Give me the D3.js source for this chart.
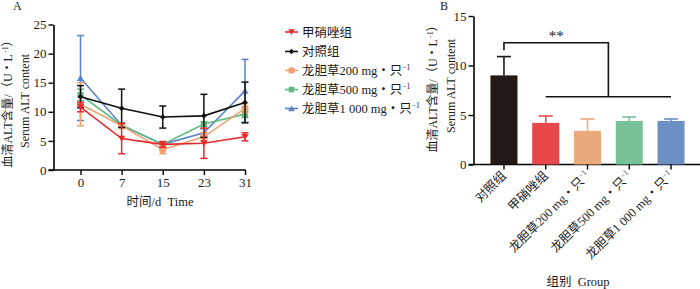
<!DOCTYPE html>
<html>
<head>
<meta charset="utf-8">
<script src="https://cdn.jsdelivr.net/npm/d3@7/dist/d3.min.js"></script>
<style>
  body { margin: 0; background: #fff; }
  text { font-family: "Liberation Serif", "Noto Sans CJK SC", serif; fill: #1a1a1a; }
</style>
</head>
<body>
<div id="chart"></div>
<script>
// ---- data ----
const days = ["0", "7", "15", "23", "31"];
const seriesNames = ["甲硝唑组", "对照组", "龙胆草200 mg・只", "龙胆草500 mg・只", "龙胆草1 000 mg・只"];
const metroMean = [10.8, 5.4, 4.4, 4.6, 5.7];
const metroErr = [0.8, 2.6, 0.5, 2.6, 0.7];
const ctrlMean = [12.6, 10.6, 9.1, 9.3, 11.6];
const ctrlErr = [1.9, 3.3, 1.9, 3.7, 3.5];
const g200Mean = [11.3, 7.6, 3.5, 5.7, 10.6];
const g200Err = [3.7, 0.3, 0.7, 0.7, 0.8];
const g500Mean = [12.9, 7.7, 4.4, 7.9, 9.6];
const g500Err = [1.0, 0.3, 0.4, 0.4, 0.6];
const g1000Mean = [15.8, 7.7, 4.4, 6.4, 13.6];
const g1000Err = [7.3, 0.3, 0.4, 0.7, 5.4];
const yTicksA = [0, 5, 10, 15, 20, 25];

const groupsB = ["对照组", "甲硝唑组", "龙胆草200 mg・只", "龙胆草500 mg・只", "龙胆草1 000 mg・只"];
const meanB = [9.0, 4.2, 3.4, 4.4, 4.4];
const errB = [1.9, 0.7, 1.2, 0.4, 0.2];
const yTicksB = [0, 5, 10, 15];

const lineColors = ["#e62a2a", "#111111", "#eea273", "#5db982", "#5b84c6"];
const barColors = ["#221815", "#e8474b", "#e9a97a", "#79c196", "#6e8fc4"];
const symbols = ["tri-down", "diamond", "circle", "square", "tri-up"];

const svg = d3.select("#chart").append("svg")
    .attr("width", 700)
    .attr("height", 289);

function markerPath(type, s) {
    if (type === "tri-down") return `M${-s},${-s * 0.8}L${s},${-s * 0.8}L0,${s * 0.9}Z`;
    if (type === "tri-up") return `M${-s},${s * 0.8}L${s},${s * 0.8}L0,${-s * 0.9}Z`;
    if (type === "diamond") return `M0,${-s * 0.8}L${s * 0.8},0L0,${s * 0.8}L${-s * 0.8},0Z`;
    if (type === "square") return `M${-s * 0.85},${-s * 0.85}h${s * 1.7}v${s * 1.7}h${-s * 1.7}Z`;
    return d3.symbol(d3.symbolCircle, s * s * 3.2)();
}

// superscript helper for "只⁻¹"
function addLabel(sel, name) {
    if (name.endsWith("只")) {
        sel.append("tspan").text(name);
        sel.append("tspan").attr("dy", -5).attr("font-size", "0.6em").text("−1");
    } else {
        sel.text(name);
    }
}

// ================= chart A =================
const xA = d3.scalePoint().domain(days).range([80.5, 245]);
const yA = d3.scaleLinear().domain([0, 25]).range([170, 24.5]);
const axLeftA = 53.5;

const gA = svg.append("g");

gA.append("text").attr("x", 13).attr("y", 10).attr("font-size", 12).text("A");

const yAxisA = gA.append("g")
    .attr("transform", `translate(${axLeftA},0)`)
    .call(d3.axisLeft(yA).tickValues(yTicksA).tickSize(5).tickSizeOuter(0).tickPadding(2));
yAxisA.select(".domain").attr("stroke-width", 1.6);
yAxisA.selectAll(".tick line").attr("stroke-width", 1.4);
yAxisA.selectAll(".tick text").attr("font-size", 13).attr("font-family", "Liberation Serif").attr("fill", "#1a1a1a");

const xAxisA = gA.append("g")
    .attr("transform", `translate(0,${yA(0)})`)
    .call(d3.axisBottom(xA).tickSize(5).tickPadding(3));
xAxisA.select(".domain").remove();
xAxisA.selectAll(".tick line").attr("stroke-width", 1.4);
xAxisA.selectAll(".tick text").attr("font-size", 13).attr("font-family", "Liberation Serif").attr("fill", "#1a1a1a");
gA.append("line")
    .attr("x1", axLeftA - 5).attr("x2", xA("31") + 0.7)
    .attr("y1", yA(0)).attr("y2", yA(0))
    .attr("stroke", "#000").attr("stroke-width", 1.6);

gA.append("text")
    .attr("x", 160).attr("y", 206)
    .attr("text-anchor", "middle").attr("font-size", 12.5)
    .text("时间/d\u00a0\u00a0Time");

function yTitle(g, x1, x2, cy) {
    const t1 = g.append("text")
        .attr("transform", `translate(${x1},${cy}) rotate(-90)`)
        .attr("text-anchor", "middle").attr("font-size", 12);
    t1.append("tspan").text("血清ALT含量/（U・L");
    t1.append("tspan").attr("dy", -4).attr("font-size", "0.6em").text("−1");
    t1.append("tspan").attr("dy", 4).text("）");
    g.append("text")
        .attr("transform", `translate(${x2},${cy}) rotate(-90)`)
        .attr("text-anchor", "middle").attr("font-size", 12)
        .text("Serum ALT content");
}
yTitle(gA, 12, 29, 101);

const seriesA = [
    {mean: metroMean, err: metroErr},
    {mean: ctrlMean, err: ctrlErr},
    {mean: g200Mean, err: g200Err},
    {mean: g500Mean, err: g500Err},
    {mean: g1000Mean, err: g1000Err}
];

const drawOrder = [4, 3, 2, 1, 0];
const line = d3.line().x((d, i) => xA(days[i])).y(d => yA(d));

drawOrder.forEach(k => {
    const s = seriesA[k];
    const col = lineColors[k];
    const g = gA.append("g");
    // error bars
    s.mean.forEach((m, i) => {
        const x = xA(days[i]);
        const lo = yA(m - s.err[i]), hi = yA(m + s.err[i]);
        g.append("line").attr("x1", x).attr("x2", x).attr("y1", lo).attr("y2", hi)
            .attr("stroke", col).attr("stroke-width", 1.5);
        [lo, hi].forEach(yy => g.append("line")
            .attr("x1", x - 3.5).attr("x2", x + 3.5).attr("y1", yy).attr("y2", yy)
            .attr("stroke", col).attr("stroke-width", 1.5));
    });
    g.append("path").datum(s.mean)
        .attr("d", line)
        .attr("fill", "none").attr("stroke", col).attr("stroke-width", 1.6);
    g.selectAll(".mk").data(s.mean).join("path")
        .attr("class", "mk")
        .attr("transform", (d, i) => `translate(${xA(days[i])},${yA(d)})`)
        .attr("d", markerPath(symbols[k], 3.6))
        .attr("fill", col);
});

// legend
const legY = [32, 51.5, 70.5, 89.5, 108.5];
seriesNames.forEach((n, k) => {
    const g = gA.append("g").attr("transform", `translate(285,${legY[k]})`);
    g.append("line").attr("x1", 0).attr("x2", 13).attr("stroke", lineColors[k]).attr("stroke-width", 1.6);
    g.append("path").attr("transform", "translate(6.5,0)")
        .attr("d", markerPath(symbols[k], 3.3)).attr("fill", lineColors[k]);
    const t = g.append("text").attr("x", 17).attr("y", 4.5).attr("font-size", 12.5);
    addLabel(t, n);
});

// ================= chart B =================
const xB = d3.scaleBand().domain(groupsB).range([475, 700]).paddingInner(0.353).paddingOuter(0.37);
const yB = d3.scaleLinear().domain([0, 15]).range([164.5, 16]);
const axLeftB = 473.5;

const gB = svg.append("g");
gB.append("text").attr("x", 440).attr("y", 10).attr("font-size", 12).text("B");

const yAxisB = gB.append("g")
    .attr("transform", `translate(${axLeftB},0)`)
    .call(d3.axisLeft(yB).tickValues(yTicksB).tickSize(5).tickSizeOuter(0).tickPadding(2));
yAxisB.select(".domain").attr("stroke-width", 1.6);
yAxisB.selectAll(".tick line").attr("stroke-width", 1.4);
yAxisB.selectAll(".tick text").attr("font-size", 13).attr("font-family", "Liberation Serif").attr("fill", "#1a1a1a");

gB.append("line")
    .attr("x1", axLeftB - 5).attr("x2", 700)
    .attr("y1", yB(0)).attr("y2", yB(0))
    .attr("stroke", "#000").attr("stroke-width", 1.6);

yTitle(gB, 437, 455, 86);

// bars
gB.selectAll(".bar").data(meanB).join("rect")
    .attr("class", "bar")
    .attr("x", (d, i) => xB(groupsB[i]))
    .attr("y", d => yB(d))
    .attr("width", xB.bandwidth())
    .attr("height", d => yB(0) - yB(d))
    .attr("fill", (d, i) => barColors[i]);

// error bars (upper only)
meanB.forEach((m, i) => {
    const cx = xB(groupsB[i]) + xB.bandwidth() / 2;
    gB.append("line").attr("x1", cx).attr("x2", cx)
        .attr("y1", yB(m)).attr("y2", yB(m + errB[i]))
        .attr("stroke", barColors[i]).attr("stroke-width", 1.6);
    gB.append("line").attr("x1", cx - 7).attr("x2", cx + 7)
        .attr("y1", yB(m + errB[i])).attr("y2", yB(m + errB[i]))
        .attr("stroke", barColors[i]).attr("stroke-width", 1.6);
});

// x ticks + rotated labels
groupsB.forEach((n, i) => {
    const cx = xB(n) + xB.bandwidth() / 2;
    gB.append("line").attr("x1", cx).attr("x2", cx)
        .attr("y1", yB(0)).attr("y2", yB(0) + 5)
        .attr("stroke", "#000").attr("stroke-width", 1.4);
    const t = gB.append("text")
        .attr("transform", `translate(${cx + 3},${yB(0) + 12}) rotate(-45)`)
        .attr("text-anchor", "end").attr("font-size", 12.5);
    addLabel(t, n);
});

gB.append("text")
    .attr("x", 578).attr("y", 286)
    .attr("text-anchor", "middle").attr("font-size", 12.5)
    .text("组别\u00a0\u00a0Group");

// significance bracket
const c0 = xB(groupsB[0]) + xB.bandwidth() / 2;
const c1 = xB(groupsB[1]) + xB.bandwidth() / 2;
const c4 = xB(groupsB[4]) + xB.bandwidth() / 2;
const cMid = (xB(groupsB[2]) + xB(groupsB[3]) + xB.bandwidth()) / 2;
const topV = 12.3, lowV = 6.85;
gB.append("path")
    .attr("d", `M${c0},${yB(11.55)}V${yB(topV)}H${cMid}V${yB(lowV)}`)
    .attr("fill", "none").attr("stroke", "#111").attr("stroke-width", 1.6);
gB.append("line")
    .attr("x1", c1).attr("x2", c4).attr("y1", yB(lowV)).attr("y2", yB(lowV))
    .attr("stroke", "#111").attr("stroke-width", 1.6);
gB.append("text")
    .attr("x", (c0 + cMid) / 2).attr("y", yB(topV) - 2)
    .attr("text-anchor", "middle").attr("font-size", 15)
    .text("**");
</script>
</body>
</html>
